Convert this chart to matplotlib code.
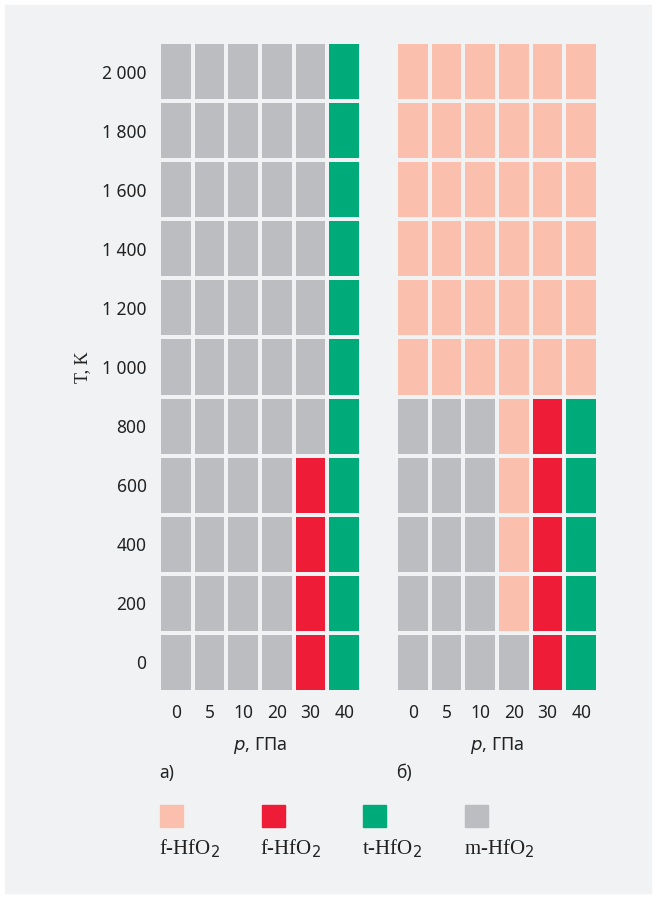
import numpy as np
import matplotlib.pyplot as plt
from matplotlib.colors import ListedColormap
from matplotlib.patches import Rectangle

# Данные
pressures = ["0", "5", "10", "20", "30", "40"]
temps = ["0", "200", "400", "600", "800", "1 000", "1 200", "1 400", "1 600", "1 800", "2 000"]
phases = ["f", "F", "t", "m"]  # f-HfO2 (светлый), f-HfO2 (красный), t-HfO2, m-HfO2
phase_labels = ["f-HfO$_2$", "f-HfO$_2$", "t-HfO$_2$", "m-HfO$_2$"]
colors = ["#fbbfad", "#ee1c37", "#00ab7a", "#bcbdc0"]

# строки снизу вверх: T = 0 ... 2000
grid_a = [
    "mmmmFt",
    "mmmmFt",
    "mmmmFt",
    "mmmmFt",
    "mmmmmt",
    "mmmmmt",
    "mmmmmt",
    "mmmmmt",
    "mmmmmt",
    "mmmmmt",
    "mmmmmt",
]
grid_b = [
    "mmmmFt",
    "mmmfFt",
    "mmmfFt",
    "mmmfFt",
    "mmmfFt",
    "ffffff",
    "ffffff",
    "ffffff",
    "ffffff",
    "ffffff",
    "ffffff",
]

bg = "#f1f2f4"
cmap = ListedColormap(colors)
tick_font = "Noto Sans"
serif_font = "Liberation Serif"


def to_codes(grid):
    return np.array([[phases.index(c) for c in row] for row in grid])


fig = plt.figure(figsize=(6.56, 8.98), dpi=100)
fig.patches.append(Rectangle((5 / 656, 5 / 898), 646 / 656, 888 / 898,
                             transform=fig.transFigure, color=bg, zorder=-1))

ax_w, ax_h, ax_y = 202 / 656, 650 / 898, 1 - 692 / 898
ax_a = fig.add_axes([159 / 656, ax_y, ax_w, ax_h])
ax_b = fig.add_axes([396 / 656, ax_y, ax_w, ax_h])

for ax, grid, tag in [(ax_a, grid_a, "а)"), (ax_b, grid_b, "б)")]:
    ax.pcolormesh(to_codes(grid), cmap=cmap, vmin=-0.5, vmax=3.5,
                  edgecolors=bg, linewidth=1.5)
    ax.set_xlim(0, len(pressures))
    ax.set_ylim(0, len(temps))
    ax.set_facecolor(bg)
    for s in ax.spines.values():
        s.set_visible(False)
    ax.set_xticks(np.arange(len(pressures)) + 0.5)
    ax.set_xticklabels(pressures, fontfamily=tick_font, fontsize=12.5, color="#222222")
    ax.tick_params(length=0, pad=9)
    ax.set_xlabel("$\\it{p}$, ГПа", fontfamily=tick_font, fontsize=13, labelpad=9,
                  color="#222222")
    ax.text(0.0, -0.125, tag, transform=ax.transAxes, fontfamily=tick_font,
            fontsize=12.5, color="#222222", ha="left", va="center")

ax_a.set_yticks(np.arange(len(temps)) + 0.5)
ax_a.set_yticklabels(temps, fontfamily=tick_font, fontsize=12.5, color="#222222")
ax_a.tick_params(axis="y", pad=9)
ax_a.set_ylabel("T, K", fontfamily=serif_font, fontsize=13, labelpad=8, color="#222222")
ax_b.set_yticks([])

# Легенда
for i, (lab, col) in enumerate(zip(phase_labels, colors)):
    x0 = (160 + i * 101.5) / 656
    fig.patches.append(Rectangle((x0, 1 - 827 / 898), 23 / 656, 22 / 898,
                                 transform=fig.transFigure, color=col))
    fig.text(x0 - 1 / 656, 1 - 849 / 898, lab, fontfamily=serif_font, fontsize=15,
             color="#222222", ha="left", va="center")

fig.savefig("out.png", dpi=100, facecolor="white")
